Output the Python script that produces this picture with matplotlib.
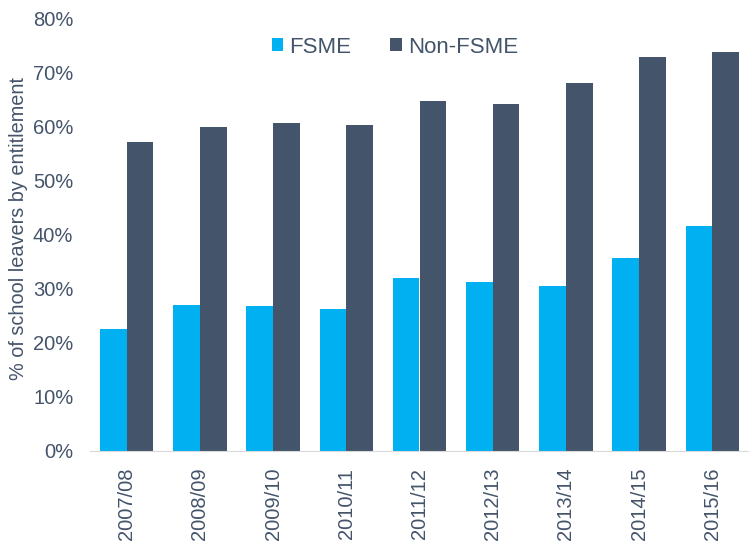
import numpy as np
import matplotlib.pyplot as plt

plt.rcParams['font.family'] = ['Liberation Sans', 'DejaVu Sans']

# data
years = ['2007/08', '2008/09', '2009/10', '2010/11', '2011/12',
         '2012/13', '2013/14', '2014/15', '2015/16']
fsme = [22.6, 26.9, 26.8, 26.2, 32.0, 31.2, 30.5, 35.7, 41.6]
non_fsme = [57.1, 59.9, 60.6, 60.3, 64.7, 64.1, 68.0, 72.8, 73.8]

text_col = '#44546A'
x = np.arange(len(years))
w = 0.365

fig = plt.figure(figsize=(7.49, 5.47), dpi=100)
ax = fig.add_axes([90 / 749, 1 - 451 / 547, 659 / 749, 433 / 547])

ax.bar(x - w / 2, fsme, w, color='#00B0F0', label='FSME')
ax.bar(x + w / 2, non_fsme, w, color='#44546A', label='Non-FSME')

ax.set_xlim(-0.5, len(years) - 0.5)
ax.set_ylim(0, 80)
ax.set_yticks(np.arange(0, 81, 10))
ax.set_yticklabels([f'{v}%' for v in range(0, 81, 10)])
ax.set_xticks(x)
ax.set_xticklabels(years, rotation=90)
ax.tick_params(axis='both', length=0, colors=text_col, labelsize=14.5)
ax.tick_params(axis='x', pad=12)
ax.tick_params(axis='y', pad=12)

for s in ['top', 'right', 'left']:
    ax.spines[s].set_visible(False)
ax.spines['bottom'].set_color('#D9D9D9')

ax.set_ylabel('% of school leavers by entitlement', color=text_col,
              fontsize=14.3, va='center')
ax.yaxis.set_label_coords(-0.108, 0.514)

leg = ax.legend(loc='center', bbox_to_anchor=(0.463, 0.933), ncol=2,
                frameon=False, fontsize=16, handlelength=0.5,
                handleheight=0.5, columnspacing=1.75, handletextpad=0.3)
for t in leg.get_texts():
    t.set_color(text_col)

fig.savefig('out.png', dpi=100)
